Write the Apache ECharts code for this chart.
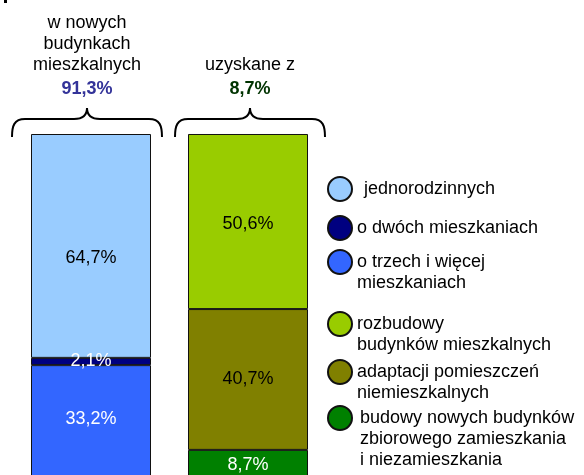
<!DOCTYPE html>
<html>
<head>
<meta charset="utf-8">
<script src="https://cdn.jsdelivr.net/npm/echarts@6/dist/echarts.min.js"></script>
<style>
html, body { margin: 0; padding: 0; background: #fff; }
#chart { width: 584px; height: 475px; }
</style>
</head>
<body>
<div id="chart"></div>
<script>
// two bars: new residential buildings vs. other sources
var categories = ['w nowych budynkach mieszkalnych', 'uzyskane z'];

// series names (legend text), bottom-to-top stacking order
var nameThree = 'o trzech i więcej\nmieszkaniach';
var nameTwo = 'o dwóch mieszkaniach';
var nameSingle = 'jednorodzinnych';
var nameCollective = 'budowy nowych budynków\nzbiorowego zamieszkania\ni niezamieszkania';
var nameAdapt = 'adaptacji pomieszczeń\nniemieszkalnych';
var nameExtend = 'rozbudowy\nbudynków mieszkalnych';

var valThree = [33.2, '-'];
var valTwo = [2.1, '-'];
var valSingle = [64.7, '-'];
var valCollective = ['-', 8.7];
var valAdapt = ['-', 40.7];
var valExtend = ['-', 50.6];

var shareNew = '91,3%';
var shareOther = '8,7%';

var FONT = 'Liberation Sans, Arial, sans-serif';

var dom = document.getElementById('chart');
var myChart = echarts.init(dom, null, { renderer: 'canvas' });

function pct(p) {
    return p.value.toFixed(1).replace('.', ',') + '%';
}

function barSeries(name, data, color, labelColor, offset) {
    return {
        name: name,
        type: 'bar',
        stack: 'total',
        barWidth: 120,
        data: data,
        itemStyle: {
            color: color,
            borderColor: '#111',
            borderWidth: 1
        },
        label: {
            show: true,
            position: 'inside',
            formatter: pct,
            color: labelColor,
            fontFamily: FONT,
            fontSize: 18,
            offset: offset || [0, 0]
        },
        emphasis: { disabled: true }
    };
}

// one legend per entry; blank lines in front keep the icon on the first text line
function legendEntry(name, centerY, indent) {
    var lines = name.split('\n').length;
    var pad = '';
    for (var i = 1; i < lines; i++) pad += '\n';
    var half = lines > 1 ? (2 * lines - 1) * 10.5 : 12;
    return {
        data: [name],
        left: 327,
        top: centerY - half,
        padding: 0,
        orient: 'vertical',
        icon: 'circle',
        itemWidth: 24,
        itemHeight: 24,
        selectedMode: false,
        formatter: function (n) { return pad + n; },
        textStyle: {
            fontFamily: FONT,
            fontSize: 18,
            color: '#000',
            lineHeight: 21,
            padding: [0, 0, 0, indent || 0]
        }
    };
}

// curly brace above a bar, made of lines and bezier curves
function brace(cx) {
    var x0 = cx - 75, x1 = cx + 75;
    var st = { stroke: '#000', lineWidth: 2, fill: null };
    function curve(a, b, c1, c2) {
        return { type: 'bezierCurve', silent: true, style: st,
            shape: { x1: a[0], y1: a[1], x2: b[0], y2: b[1], cpx1: c1[0], cpy1: c1[1], cpx2: c2[0], cpy2: c2[1] } };
    }
    function seg(a, b) {
        return { type: 'line', silent: true, style: st,
            shape: { x1: a[0], y1: a[1], x2: b[0], y2: b[1] } };
    }
    return [
        curve([x0, 137], [x0 + 13, 119], [x0, 126], [x0 + 2, 119]),
        seg([x0 + 13, 119], [cx - 13, 119]),
        curve([cx - 13, 119], [cx, 108], [cx - 5, 119], [cx, 116]),
        curve([cx, 108], [cx + 13, 119], [cx, 116], [cx + 5, 119]),
        seg([cx + 13, 119], [x1 - 13, 119]),
        curve([x1 - 13, 119], [x1, 137], [x1 - 2, 119], [x1, 126])
    ];
}

var option = {
    animation: false,
    backgroundColor: '#fff',
    title: [
        {
            text: 'w nowych\nbudynkach\nmieszkalnych',
            subtext: shareNew,
            left: 87,
            top: 13,
            padding: 0,
            itemGap: 3,
            textAlign: 'center',
            textStyle: { fontFamily: FONT, fontSize: 18, fontWeight: 'normal', color: '#000', lineHeight: 21 },
            subtextStyle: { fontFamily: FONT, fontSize: 18, fontWeight: 'bold', color: '#333399', lineHeight: 21 }
        },
        {
            text: 'uzyskane z',
            subtext: shareOther,
            left: 250,
            top: 55,
            padding: 0,
            itemGap: 3,
            textAlign: 'center',
            textStyle: { fontFamily: FONT, fontSize: 18, fontWeight: 'normal', color: '#000', lineHeight: 21 },
            subtextStyle: { fontFamily: FONT, fontSize: 18, fontWeight: 'bold', color: '#003300', lineHeight: 21 }
        }
    ],
    legend: [
        legendEntry(nameSingle, 188, 7),
        legendEntry(nameTwo, 227),
        legendEntry(nameThree, 262),
        legendEntry(nameExtend, 324),
        legendEntry(nameAdapt, 372),
        legendEntry(nameCollective, 418, 3)
    ],
    grid: {
        left: 12.5,
        width: 314,
        top: 134,
        bottom: -5,
        outerBoundsMode: 'none'
    },
    xAxis: {
        type: 'category',
        data: categories,
        show: false
    },
    yAxis: {
        type: 'value',
        min: 0,
        max: 100,
        show: false
    },
    graphic: [
        { type: 'rect', silent: true, shape: { x: 4, y: 0, width: 3, height: 3 }, style: { fill: '#000' } }
    ].concat(brace(87), brace(250)),
    series: [
        barSeries(nameThree, valThree, '#3366FF', '#fff', [0, -4]),
        barSeries(nameTwo, valTwo, '#000080', '#fff'),
        barSeries(nameSingle, valSingle, '#99CCFF', '#000', [0, 12]),
        barSeries(nameCollective, valCollective, '#008000', '#fff'),
        barSeries(nameAdapt, valAdapt, '#808000', '#000'),
        barSeries(nameExtend, valExtend, '#99CC00', '#000', [0, 2])
    ]
};

myChart.setOption(option);
</script>
</body>
</html>
